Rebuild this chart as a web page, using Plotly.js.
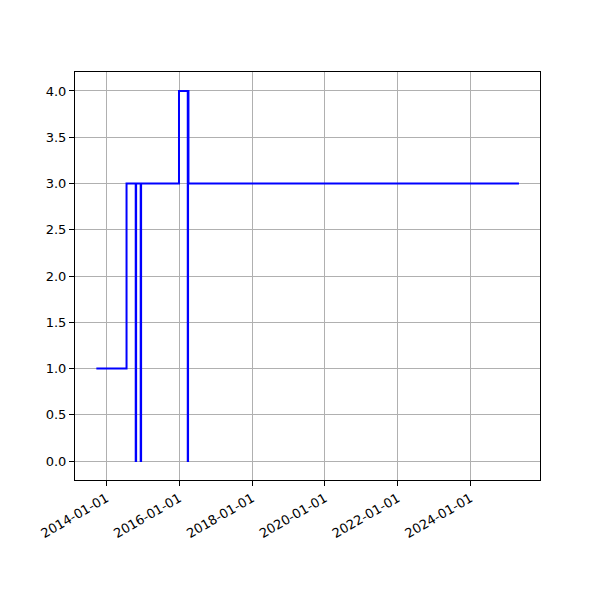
<!DOCTYPE html>
<html>
<head>
<meta charset="utf-8">
<script src="https://cdn.plot.ly/plotly-3.0.1.min.js"></script>
<style>html,body{margin:0;padding:0;background:#fff;}</style>
</head>
<body>
<div id="chart" style="width:600px;height:600px;"></div>
<script>
const dates = ["2013-09-22","2014-07-22","2014-10-22","2014-10-26","2014-12-11","2014-12-15","2015-12-30","2016-03-27","2016-03-30","2016-04-03","2025-05-01"];
const values = [1,3,0,3,0,3,4,0,4,3,3];
const tickDates = ["2014-01-01","2016-01-01","2018-01-01","2020-01-01","2022-01-01","2024-01-01"];
const tickLabels = tickDates.slice();

const trace = {
  x: dates, y: values, type: "scatter", mode: "lines",
  line: {color: "#0000ff", width: 2, shape: "hv"},
  hoverinfo: "skip"
};
const axisCommon = {
  showline: true, linecolor: "#000", linewidth: 1, mirror: true,
  ticks: "outside", ticklen: 5, tickcolor: "#000", tickwidth: 1,
  showgrid: true, gridcolor: "#b0b0b0", gridwidth: 1, zeroline: false,
  tickfont: {family: "DejaVu Sans", size: 13, color: "#000"}
};
const layout = {
  width: 600, height: 600,
  margin: {l: 75, r: 60, t: 72, b: 120},
  paper_bgcolor: "#fff", plot_bgcolor: "#fff",
  showlegend: false,
  xaxis: Object.assign({}, axisCommon, {
    type: "date",
    range: ["2013-02-20", "2025-11-28"],
    tickmode: "array", tickvals: tickDates, ticktext: tickLabels,
    tickangle: -30
  }),
  yaxis: Object.assign({}, axisCommon, {
    range: [-0.205, 4.205],
    tickmode: "array",
    tickvals: [0,0.5,1,1.5,2,2.5,3,3.5,4],
    ticktext: ["0.0","0.5","1.0","1.5","2.0","2.5","3.0","3.5","4.0"]
  })
};
Plotly.newPlot("chart", [trace], layout, {displayModeBar: false, staticPlot: true});
</script>
</body>
</html>
